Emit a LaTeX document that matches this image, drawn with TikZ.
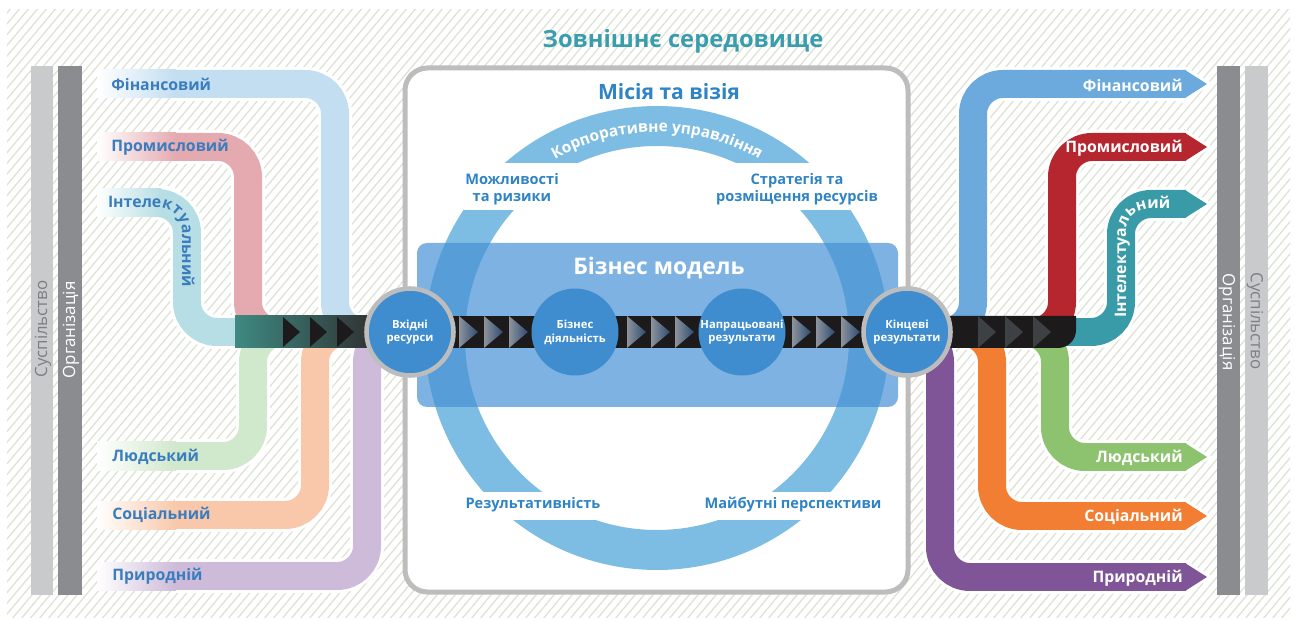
\documentclass[tikz,border=0pt]{standalone}
\usepackage{fontspec}
\setmainfont{Open Sans}
\usepackage{xcolor}
\usetikzlibrary{decorations.text}

\definecolor{hatchc}{HTML}{DDE2D2}
\definecolor{socbar}{HTML}{C9CACC}
\definecolor{orgbar}{HTML}{8B8C8F}
\definecolor{socgrey}{HTML}{7E7F82}
\definecolor{boxgrey}{HTML}{BDBDBD}
\definecolor{ringblue}{HTML}{7DBCE3}
\definecolor{modelblue}{HTML}{4892D6}
\definecolor{stageblue}{HTML}{3F8DCF}
\definecolor{lblblue}{HTML}{3A7DBF}
\definecolor{midblue}{HTML}{2F84C6}
\definecolor{titleteal}{HTML}{3A9DAD}
\definecolor{barblack}{HTML}{1C1A1A}
\definecolor{barteal}{HTML}{3E8A82}
\definecolor{bargrey}{HTML}{303434}
\definecolor{chevlight}{HTML}{8E939C}
\definecolor{chevdark}{HTML}{2C4B72}
\definecolor{chevgrey}{HTML}{3D4144}
% capitals coming in
\definecolor{finin}{HTML}{C3DEF1}
\definecolor{promin}{HTML}{E5AAB0}
\definecolor{intin}{HTML}{B7DEE4}
\definecolor{humin}{HTML}{D0E8CB}
\definecolor{socin}{HTML}{F9C8AA}
\definecolor{natin}{HTML}{CDBBD9}
% capitals going out
\definecolor{finout}{HTML}{6CAADD}
\definecolor{promout}{HTML}{B5262F}
\definecolor{intout}{HTML}{3A9BA8}
\definecolor{humout}{HTML}{8DC36F}
\definecolor{socout}{HTML}{F27E33}
\definecolor{natout}{HTML}{7F5597}

\newcommand{\lblfont}{\bfseries\fontsize{9}{10}\selectfont}
\newcommand{\stagefont}{\bfseries\fontsize{6.4}{7.8}\selectfont}
\newcommand{\midfont}{\bfseries\fontsize{8.3}{9.6}\selectfont}
\newcommand{\barfont}{\fontsize{9.6}{11}\selectfont}
\newcommand{\titlefont}{\bfseries\fontsize{13.5}{16}\selectfont}

\tikzset{
  hatchline/.style={hatchc, line width=0.7pt},
  ribbon/.style={line width=0.56cm, rounded corners=0.6cm},
  halo/.style={white, line width=0.68cm, rounded corners=0.6cm},
  inlabel/.style={anchor=west, text=lblblue, font=\lblfont, inner sep=0pt},
  outlabel/.style={anchor=east, text=white, font=\lblfont, inner sep=0pt},
  stage/.style={circle, fill=stageblue, minimum size=1.74cm, inner sep=0pt,
    align=center, text=white, font=\stagefont},
  edgestage/.style={stage, draw=boxgrey, line width=2.6pt},
  midlabel/.style={text=midblue, font=\midfont, align=center},
}

\begin{document}
\begin{tikzpicture}[x=0.02cm, y=-0.02cm]
  \useasboundingbox (0,0) rectangle (1295,621);
  \fill[white] (0,0) rectangle (1295,621);
  % hatched surroundings
  \begin{scope}
    \clip (7,10) rectangle (1290,617);
    \foreach \i in {-520,-511,...,1290}
      \draw[hatchline] (\i,620) -- ++(520,-620);
  \end{scope}
  \node[text=titleteal, font=\titlefont] (env) at (683,41) {Зовнішнє середовище};

  % society / organisation bars
  \fill[socbar] (31,66) rectangle (53,595);
  \fill[orgbar] (58,66) rectangle (82,595);
  \fill[orgbar] (1217,66) rectangle (1240,595);
  \fill[socbar] (1245,66) rectangle (1268,595);
  \node[rotate=90, text=socgrey, font=\barfont] (socleft) at (43,329) {Суспільство};
  \node[rotate=90, text=white, font=\barfont] (orgleft) at (71,330) {Організація};
  \node[rotate=-90, text=white, font=\barfont] (orgright) at (1227,322) {Організація};
  \node[rotate=-90, text=socgrey, font=\barfont] (socright) at (1255,321) {Суспільство};

  % central frame
  \draw[boxgrey, line width=0.1cm, fill=white, rounded corners=0.45cm] (405,68) rectangle (908,592);
  \draw[ringblue, line width=0.8cm] (657,338) circle[radius=212];
  \fill[white] (425,163) rectangle (892,210);
  \fill[white] (425,492) rectangle (892,520);
  \fill[modelblue, opacity=0.7, rounded corners=0.2cm] (417,243) rectangle (898,407);

  % ribbons in
  \draw[halo] (175,84) -- (335,84) -- (335,332) -- (380,332);
  \draw[halo] (175,147) -- (248,147) -- (248,332) -- (300,332);
  \draw[halo] (175,203) -- (187,203) -- (187,332) -- (250,332);
  \draw[halo] (175,456) -- (253,456) -- (253,332) -- (300,332);
  \draw[halo] (175,515) -- (315,515) -- (315,332) -- (360,332);
  \draw[halo] (175,576) -- (367,576) -- (367,332) -- (400,332);
  \draw[ribbon, finin] (175,84) -- (335,84) -- (335,332) -- (380,332);
  \draw[ribbon, promin] (175,147) -- (248,147) -- (248,332) -- (300,332);
  \draw[ribbon, intin] (160,203) -- (187,203) -- (187,332) -- (250,332);
  \draw[ribbon, humin] (175,456) -- (253,456) -- (253,332) -- (300,332);
  \draw[ribbon, socin] (175,515) -- (315,515) -- (315,332) -- (360,332);
  \draw[ribbon, natin] (175,576) -- (367,576) -- (367,332) -- (400,332);
  \shade[left color=white, right color=finin] (97,70) rectangle (176,98);
  \shade[left color=white, right color=promin] (97,133) rectangle (176,161);
  \shade[left color=white, right color=intin] (97,189) rectangle (161,217);
  \shade[left color=white, right color=humin] (97,442) rectangle (176,470);
  \shade[left color=white, right color=socin] (97,501) rectangle (176,529);
  \shade[left color=white, right color=natin] (97,562) rectangle (176,590);

  % ribbons out
  \draw[halo] (930,332) -- (973,332) -- (973,84) -- (1186,84);
  \draw[halo] (1010,332) -- (1062,332) -- (1062,147) -- (1186,147);
  \draw[halo] (1040,332) -- (1121,332) -- (1121,204) -- (1186,204);
  \draw[halo] (1020,332) -- (1055,332) -- (1055,457) -- (1186,457);
  \draw[halo] (960,332) -- (992,332) -- (992,516) -- (1186,516);
  \draw[halo] (900,332) -- (940,332) -- (940,577) -- (1186,577);
  \foreach \y in {84,147,204,457,516,577}
    \filldraw[white, line width=0.12cm] (1185,\y-14) -- (1207,\y) -- (1185,\y+14) -- cycle;
  \draw[ribbon, finout] (930,332) -- (973,332) -- (973,84) -- (1186,84);
  \draw[ribbon, promout] (1010,332) -- (1062,332) -- (1062,147) -- (1186,147);
  \draw[ribbon, intout] (1040,332) -- (1121,332) -- (1121,204) -- (1186,204);
  \draw[ribbon, humout] (1020,332) -- (1055,332) -- (1055,457) -- (1186,457);
  \draw[ribbon, socout] (960,332) -- (992,332) -- (992,516) -- (1186,516);
  \draw[ribbon, natout] (900,332) -- (940,332) -- (940,577) -- (1186,577);
  \fill[finout] (1185,70) -- (1207,84) -- (1185,98) -- cycle;
  \fill[promout] (1185,133) -- (1207,147) -- (1185,161) -- cycle;
  \fill[intout] (1185,190) -- (1207,204) -- (1185,218) -- cycle;
  \fill[humout] (1185,443) -- (1207,457) -- (1185,471) -- cycle;
  \fill[socout] (1185,502) -- (1207,516) -- (1185,530) -- cycle;
  \fill[natout] (1185,563) -- (1207,577) -- (1185,591) -- cycle;

  % value chain bar
  \shade[left color=barteal, right color=bargrey] (235,316) rectangle (370,348);
  \fill[barblack] (930,316) -- (1076,316) -- (1076,330) arc[start angle=0, end angle=90, radius=18] -- (930,348) -- cycle;
  \fill[barblack] (368,316) rectangle (960,348);
  \foreach \t in {283,310,337}
    \fill[barblack] (\t,317) -- (\t+17,332) -- (\t,347) -- cycle;
  \foreach \t in {459,484,509,627,651,675,792,816,841}
    \shade[left color=chevlight, right color=chevdark] (\t,316) -- (\t+19,332) -- (\t,348) -- cycle;
  \foreach \t in {978,1005,1033}
    \fill[chevgrey] (\t,316) -- (\t+18,332) -- (\t,348) -- cycle;

  % stages
  \node[edgestage] (inputs) at (410,332) {Вхідні\\ресурси};
  \node[stage] (activities) at (575,332) {Бізнес\\діяльність};
  \node[stage] (outputs) at (742,332) {Напрацьовані\\результати};
  \node[edgestage] (outcomes) at (907,332) {Кінцеві\\результати};

  % texts of the frame
  \node[text=midblue, font=\bfseries\fontsize{12}{14}\selectfont] (mission) at (669,92) {Місія та візія};
  \node[text=white, font=\bfseries\fontsize{13}{15}\selectfont] (model) at (659,268) {Бізнес модель};
  \path[decorate, decoration={text along path, text align=center, text color=white,
    text={|\bfseries\fontsize{8.8}{10}\selectfont|Корпоративне управління}}]
    (657,338) ++(-124:206) arc[start angle=-124, end angle=-56, radius=206];
  \node[midlabel] (risks) at (512,189) {Можливості\\та ризики};
  \node[midlabel] (strategy) at (797,189) {Стратегія та\\розміщення ресурсів};
  \node[midlabel] (performance) at (533,505) {Результативність};
  \node[midlabel] (outlook) at (793,505) {Майбутні перспективи};

  % capital labels
  \node[inlabel] (finl) at (111,84) {Фінансовий};
  \node[inlabel] (proml) at (111,147) {Промисловий};
  \path[decorate, decoration={text along path, text color=lblblue,
    text={|\lblfont|Інтелектуальний}}]
    (108,208) [rounded corners=0.45cm] -- (182,208) -- (182,320);
  \node[inlabel] (huml) at (112,457) {Людський};
  \node[inlabel] (socl) at (112,515) {Соціальний};
  \node[inlabel] (natl) at (112,576) {Природній};
  \node[outlabel] (finr) at (1183,85) {Фінансовий};
  \node[outlabel] (promr) at (1183,148) {Промисловий};
  \path[decorate, decoration={text along path, text color=white,
    text={|\lblfont|Інтелектуальний}}]
    (1126,318) [rounded corners=0.45cm] -- (1126,209) -- (1184,209);
  \node[outlabel] (humr) at (1183,458) {Людський};
  \node[outlabel] (socr) at (1183,517) {Соціальний};
  \node[outlabel] (natr) at (1183,578) {Природній};
\end{tikzpicture}
\end{document}
